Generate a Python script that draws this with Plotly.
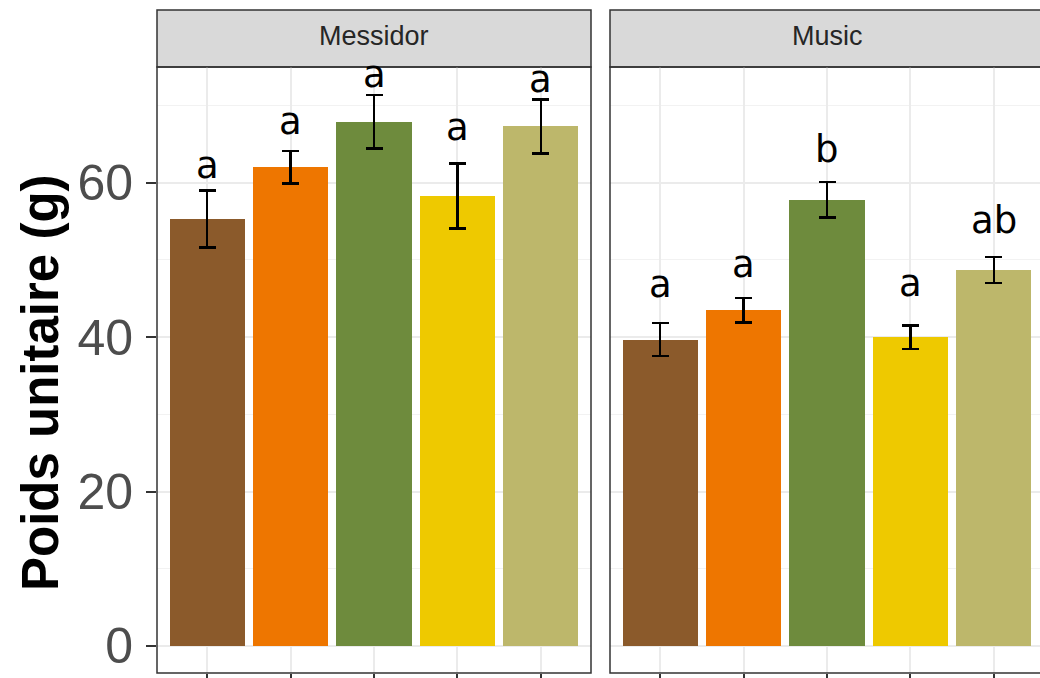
import plotly.graph_objects as go

# Treatments (x categories) and fill colours, shared by both varieties
treatments = ["T1", "T2", "T3", "T4", "T5"]
bar_colors = ["#8B5A2B", "#EE7600", "#6E8B3D", "#EEC900", "#BDB76B"]

# Facet titles
varieties = ["Messidor", "Music"]

# Mean unit weight (g) and standard error per treatment
mean_messidor = [55.3, 62.0, 67.9, 58.3, 67.3]
se_messidor = [3.7, 2.1, 3.45, 4.2, 3.5]
mean_music = [39.7, 43.5, 57.8, 40.0, 48.7]
se_music = [2.15, 1.6, 2.3, 1.55, 1.7]

# Significance letters and the height at which each one is written
letters_messidor = ["a", "a", "a", "a", "a"]
letters_music = ["a", "a", "b", "a", "ab"]
letter_y_messidor = [60.3, 66.1, 72.2, 65.3, 71.5]
letter_y_music = [45.0, 47.6, 62.5, 45.1, 53.2]

y_ticks = [0, 20, 40, 60]

W, H = 1040, 678
GRID = "#EBEBEB"
DARK = "#333333"

fig = go.Figure()

panels = [
    ("x", "y", mean_messidor, se_messidor, letters_messidor, letter_y_messidor),
    ("x2", "y2", mean_music, se_music, letters_music, letter_y_music),
]

for xa, ya, means, ses, letters, ly in panels:
    fig.add_trace(go.Bar(
        x=treatments, y=means, width=0.9,
        marker=dict(color=bar_colors, line=dict(width=0)),
        error_y=dict(type="data", array=ses, color="black", thickness=2.6, width=8.5),
        xaxis=xa, yaxis=ya, showlegend=False, hoverinfo="skip",
    ))
    for t, txt, yy in zip(treatments, letters, ly):
        fig.add_annotation(
            x=t, y=yy, xref=xa, yref=ya, text=txt, showarrow=False,
            yanchor="bottom", yshift=-9,
            font=dict(family="DejaVu Sans", size=37, color="black"),
        )

# Panel geometry in pixels
p1_left, p1_right = 157, 591
p2_left = 610
px_per_cat = (p1_right - p1_left) / 5.2
panel_top, panel_bottom = 67, 673
strip_top = 10


def fy(px):
    return (H - px) / H


x2_end = -0.6 + (W - p2_left) / px_per_cat

common_x = dict(
    type="category", showticklabels=False, ticks="outside", ticklen=6,
    tickwidth=1.5, tickcolor=DARK, showgrid=True, gridcolor=GRID, gridwidth=1.5,
    zeroline=False, showline=False, fixedrange=True,
)
common_y = dict(
    range=[-3.5, 75.0], tickvals=y_ticks, showgrid=True, gridcolor=GRID,
    gridwidth=1.5, zeroline=False, showline=False,
    minor=dict(dtick=10, tick0=0, showgrid=True, gridcolor="#F2F2F2", gridwidth=1),
    domain=[fy(panel_bottom), fy(panel_top)],
)

fig.update_layout(
    width=W, height=H, margin=dict(l=0, r=0, t=0, b=0),
    paper_bgcolor="white", plot_bgcolor="white", bargap=0,
    xaxis=dict(domain=[p1_left / W, p1_right / W], range=[-0.6, 4.6], **common_x),
    xaxis2=dict(domain=[p2_left / W, 1.0], range=[-0.6, x2_end], anchor="y2", **common_x),
    yaxis=dict(
        anchor="x", ticks="outside", ticklen=10, tickwidth=1.5, tickcolor=DARK,
        tickfont=dict(family="Liberation Sans, Arial", size=50, color="#4D4D4D"),
        ticklabelstandoff=3, **common_y,
    ),
    yaxis2=dict(anchor="x2", matches="y", showticklabels=False, ticks="", **common_y),
)

# Panel borders and facet strips
full_width_px = p1_right - p1_left
for xa, name, x1 in [("x", varieties[0], 1.0), ("x2", varieties[1], full_width_px / (W - p2_left))]:
    fig.add_shape(type="rect", xref=f"{xa} domain", yref=f"{'y' if xa == 'x' else 'y2'} domain",
                  x0=0, x1=x1, y0=0, y1=1, line=dict(color=DARK, width=1.5),
                  fillcolor="rgba(0,0,0,0)", layer="above")
    fig.add_shape(type="rect", xref=f"{xa} domain", yref="paper",
                  x0=0, x1=x1, y0=fy(panel_top), y1=fy(strip_top),
                  line=dict(color=DARK, width=1.5), fillcolor="#D9D9D9", layer="below")
    fig.add_annotation(
        xref=f"{xa} domain", yref="paper", x=x1 / 2, y=fy((panel_top + strip_top) / 2 - 2),
        text=name, showarrow=False, xanchor="center", yanchor="middle",
        font=dict(family="Liberation Sans, Arial", size=27, color="#262626"),
    )

# Y axis title
fig.add_annotation(
    xref="paper", yref="paper", x=40 / W, y=fy(383), text="<b>Poids unitaire (g)</b>",
    textangle=-90, showarrow=False, xanchor="center", yanchor="middle",
    font=dict(family="Liberation Sans, Arial", size=51, color="black"),
)

fig.write_html("out.html")
